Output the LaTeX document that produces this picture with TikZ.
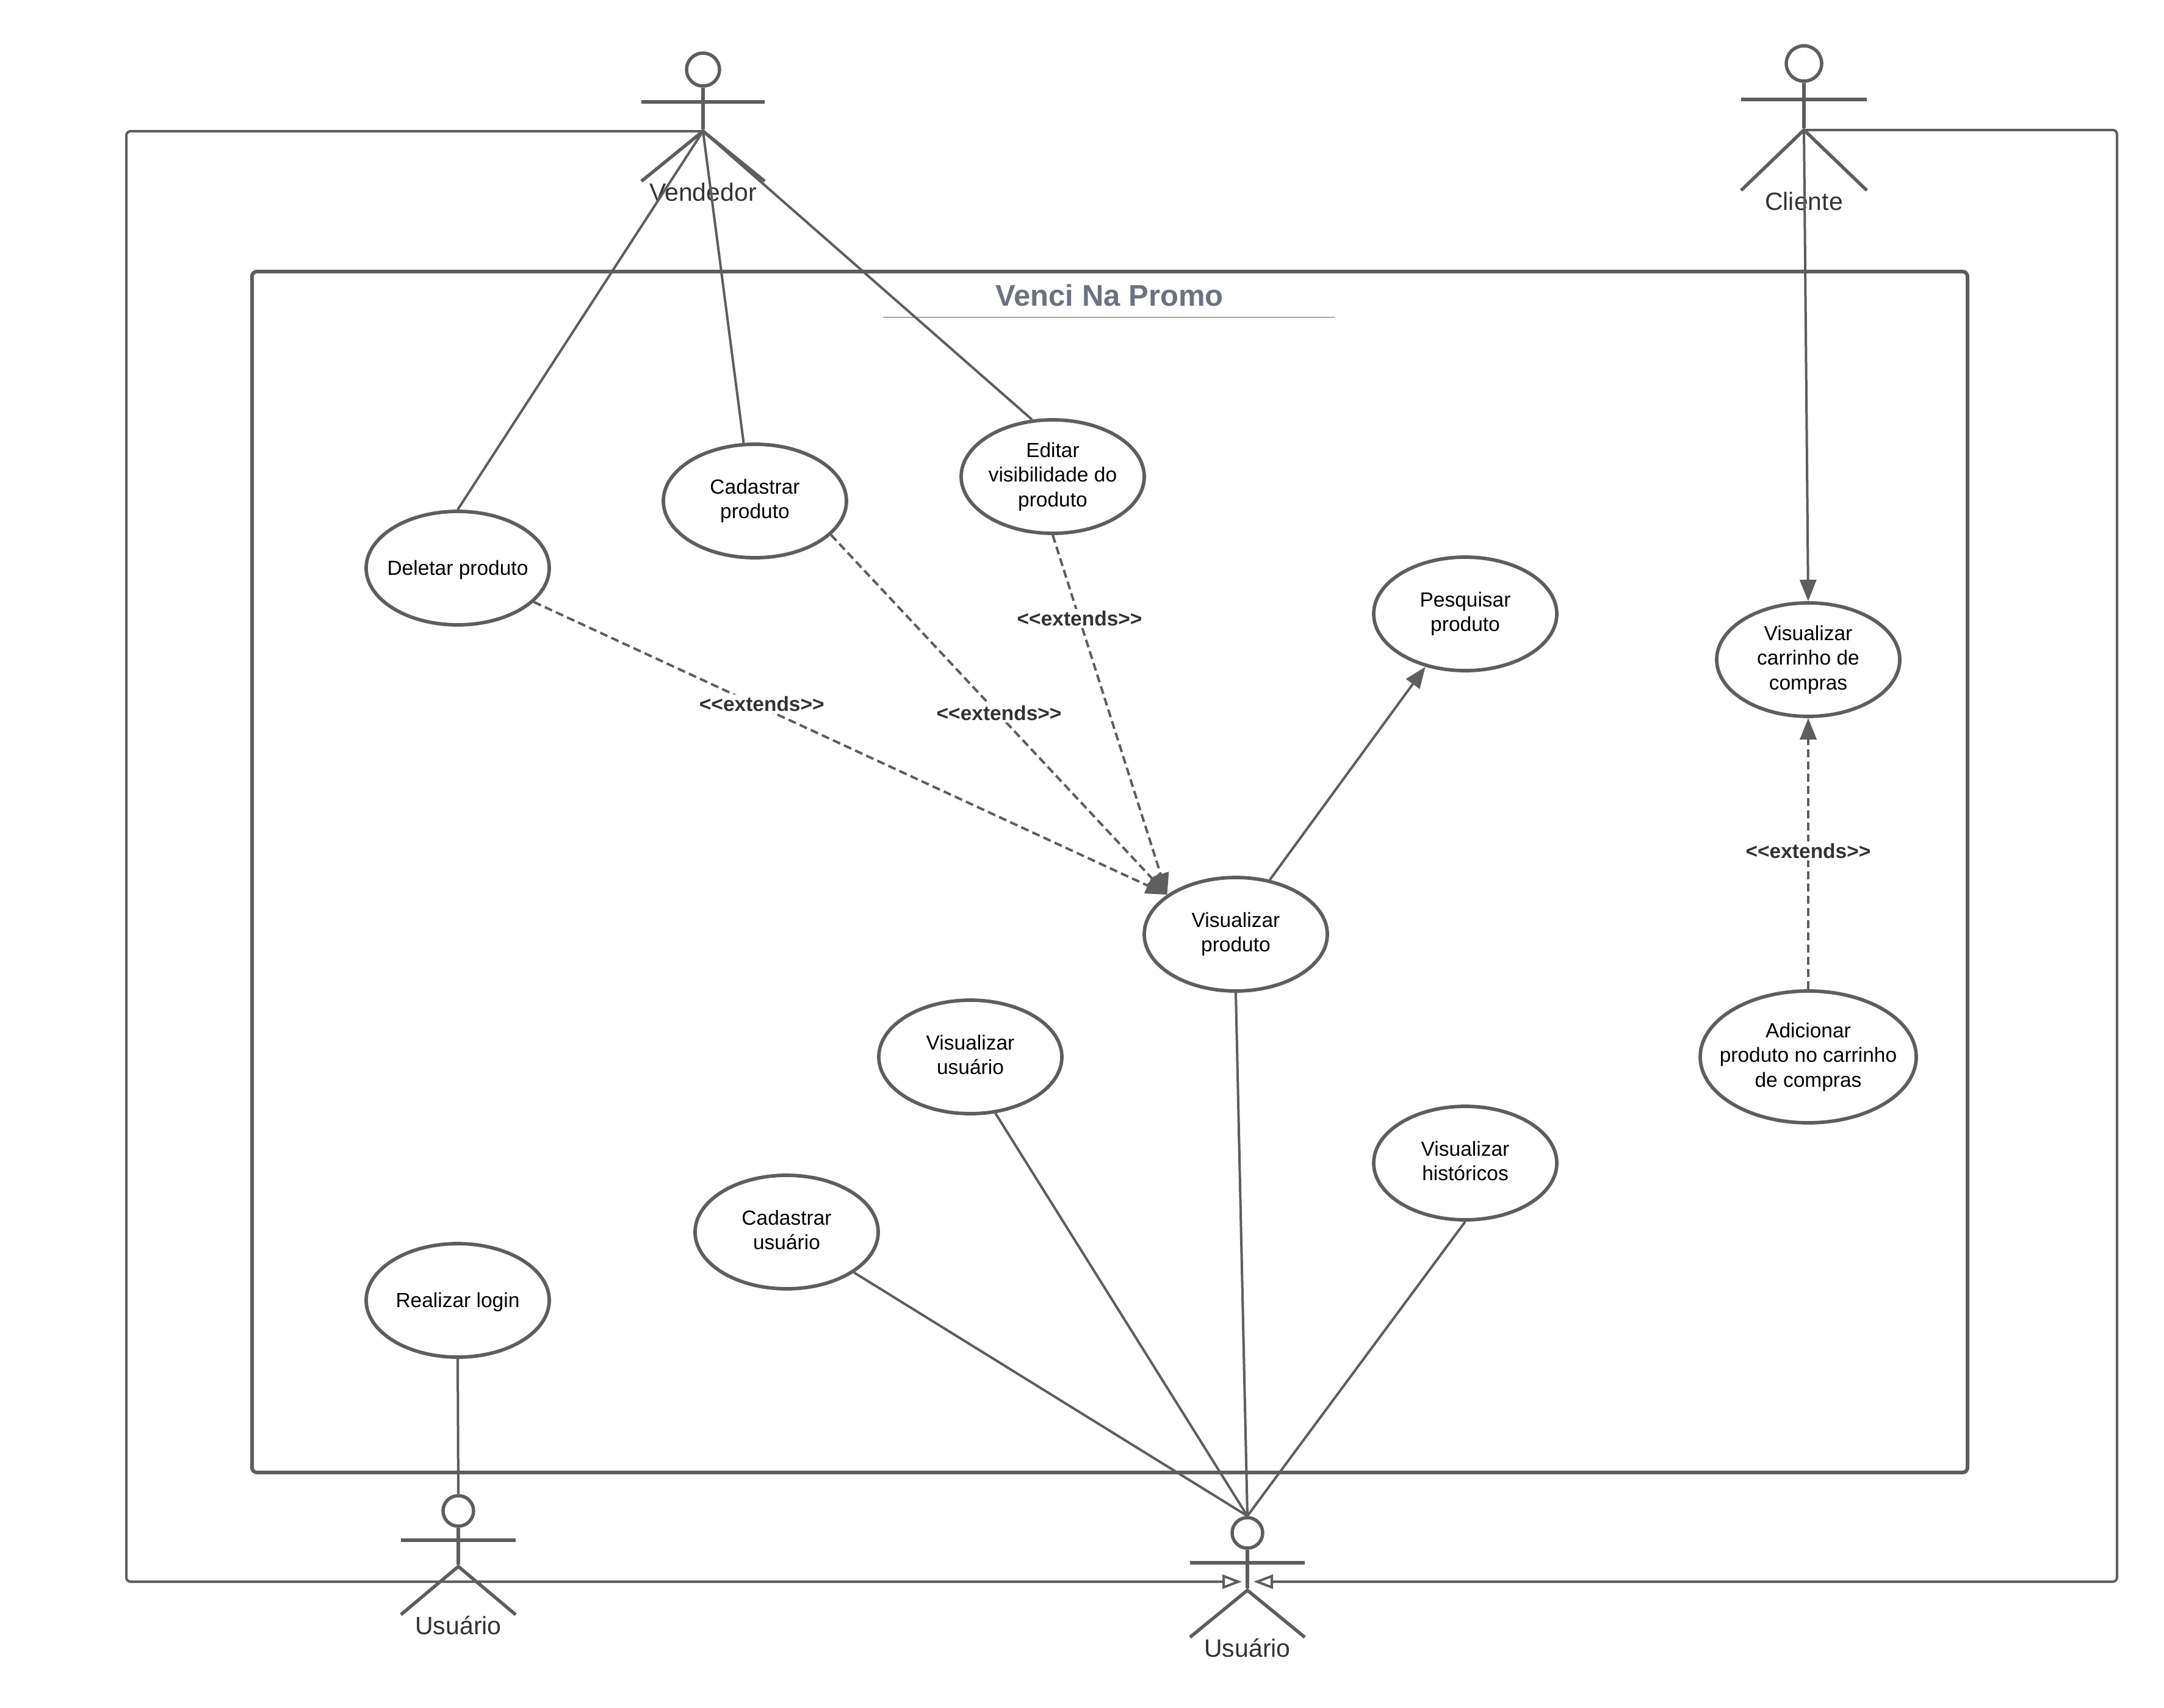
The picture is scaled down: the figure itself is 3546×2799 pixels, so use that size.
\documentclass[tikz,border=0pt]{standalone}
\usepackage{fontspec}
\setmainfont{Liberation Sans}
\usetikzlibrary{shapes, arrows.meta, positioning}

\definecolor{linegray}{HTML}{5E5E5E}
\definecolor{titlegray}{HTML}{6B7280}

\tikzset{
	usecase/.style={ellipse,draw=linegray,fill=white,line width=1.15pt,inner sep=-10pt,
		minimum width=60pt,minimum height=37.2pt,align=center,
		font=\fontsize{6.7}{8.1}\selectfont},
	usecasebig/.style={usecase,minimum width=70.8pt,minimum height=43.2pt},
	oneline/.style={text height=5.8pt},
	twolines/.style={text depth=1.5pt},
	actorhead/.style={circle,draw=linegray,line width=1.1pt,inner sep=0pt},
	actorlimb/.style={draw=linegray,line width=1.1pt},
	actorname/.style={text=black!80,font=\fontsize{8.2}{9.8}\selectfont},
	assoc/.style={draw=linegray,line width=.8pt},
	directed/.style={assoc,-{Triangle[length=7pt,width=5.4pt]}},
	extendsline/.style={directed,dash pattern=on 2.6pt off 1.4pt},
	extendsname/.style={fill=white,inner sep=.6pt,text=black!80,
		font=\fontsize{6.7}{8.1}\selectfont\bfseries},
	inherit/.style={assoc,rounded corners=1.4pt},
	opentip/.style={-{Triangle[open,length=6.4pt,width=4.6pt]}}
}

% name, x, head y, head radius, arms y, hip y, feet y, half width, text
\newcommand{\actor}[9]{
	\node[actorhead,minimum size=#4*0.4pt] (#1) at (#2,#3) {};
	\coordinate (#1hip) at (#2,#6);
	\draw[actorlimb] (#1.south) -- ([yshift=.6pt]#1hip);
	\draw[actorlimb] ({#2-#8},#5) -- ({#2+#8},#5);
	\draw[actorlimb] ({#2-#8},#7) -- (#1hip) -- ({#2+#8},#7);
	\node[actorname] (#1name) at (#2,{#7+18}) {#9};
}
\newcommand{\extendsword}{<{}<extends>{}>}

\begin{document}
\begin{tikzpicture}[x=0.2pt,y=-0.2pt]
	\useasboundingbox (0,0) rectangle (3546,2799);

	% system box
	\draw[linegray,line width=1.2pt,rounded corners=1.6pt] (413,445) rectangle (3224,2413);
	\node[text=titlegray,font=\fontsize{9.8}{11.8}\selectfont\bfseries] (titulo) at (1818,484) {Venci Na Promo};
	\draw[black!35,line width=.4pt] (1447,520) -- (2187,520);

	% actors
	\actor{vendedor}{1152}{114}{27}{167}{215}{297}{101}{Vendedor}
	\actor{cliente}{2956}{104}{29}{163}{213}{312}{103}{Cliente}
	\actor{usuarioA}{751}{2476}{25}{2524}{2567}{2646}{94}{Usuário}
	\actor{usuarioB}{2044}{2512}{25}{2561}{2606}{2683}{94}{Usuário}

	% use cases
	\node[usecase,oneline] (deletar) at (750,931) {Deletar produto};
	\node[usecase,twolines] (cadproduto) at (1237,821) {Cadastrar\\produto};
	\node[usecase] (editar) at (1725,781) {Editar\\visibilidade do\\produto};
	\node[usecase,twolines] (pesquisar) at (2401,1006) {Pesquisar\\produto};
	\node[usecase,twolines] (visproduto) at (2025,1531) {Visualizar\\produto};
	\node[usecase] (carrinho) at (2963,1081) {Visualizar\\carrinho de\\compras};
	\node[usecasebig] (adicionar) at (2963,1732) {Adicionar\\produto no carrinho\\de compras};
	\node[usecase,twolines] (visusuario) at (1590,1732) {Visualizar\\usuário};
	\node[usecase,twolines] (historicos) at (2401,1906) {Visualizar\\históricos};
	\node[usecase,twolines] (cadusuario) at (1289,2019) {Cadastrar\\usuário};
	\node[usecase,oneline] (login) at (750,2131) {Realizar login};

	% associations
	\draw[assoc] (vendedorhip) -- (deletar.north);
	\draw[assoc] (vendedorhip) -- (cadproduto.101);
	\draw[assoc] (vendedorhip) -- (editar.110);
	\draw[directed] (clientehip) -- (carrinho.north);
	\draw[directed] (visproduto.58) -- (pesquisar.233);
	\draw[assoc] (login.south) -- (usuarioA.north);
	\draw[assoc] (cadusuario.-31) -- (usuarioB.north);
	\draw[assoc] (visusuario.-66) -- (usuarioB.north);
	\draw[assoc] (visproduto.south) -- (usuarioB.north);
	\draw[assoc] (historicos.south) -- (usuarioB.north);

	% extends
	\draw[extendsline] (deletar.-24) -- node[extendsname,pos=.36,yshift=1.1pt] (extdeletar) {\extendsword} (visproduto.150);
	\draw[extendsline] (cadproduto.-24) -- node[extendsname,pos=.5,yshift=.6pt] (extcadastrar) {\extendsword} (visproduto.150);
	\draw[extendsline] (editar.south) -- node[extendsname,pos=.235,yshift=.4pt] (exteditar) {\extendsword} (visproduto.150);
	\draw[extendsline] (adicionar.north) -- node[extendsname,pos=.51] (extadicionar) {\extendsword} (carrinho.south);

	% outer connectors
	\coordinate (baseleft) at (207,2592);
	\coordinate (baseright) at (3469,2592);
	\coordinate (usuarioBleft) at (2035,2592);
	\coordinate (usuarioBright) at (2054,2592);
	\draw[inherit,opentip] (vendedorhip) -| (baseleft) -- (usuarioBleft);
	\draw[inherit,opentip] (clientehip) -| (baseright) -- (usuarioBright);
\end{tikzpicture}
\end{document}
